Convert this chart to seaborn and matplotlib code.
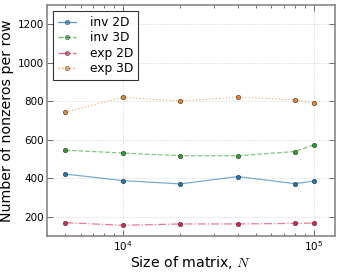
import matplotlib
matplotlib.use("Agg")
import matplotlib.pyplot as plt
import seaborn as sns
import pandas as pd

# matrix sizes and nonzeros per row
sizes = [5000, 10000, 20000, 40000, 80000, 100000]
inv_2d = [422, 388, 371, 409, 372, 386]
inv_3d = [546, 531, 517, 517, 539, 574]
exp_2d = [170, 156, 163, 163, 166, 168]
exp_3d = [743, 821, 800, 822, 807, 791]

labels = ["inv 2D", "inv 3D", "exp 2D", "exp 3D"]
series = [inv_2d, inv_3d, exp_2d, exp_3d]
colors = ["#1f77b4", "#2ca02c", "#d62750", "#e8832a"]
styles = ["-", "--", "-.", ":"]

df = pd.DataFrame({
    "N": sizes * len(labels),
    "nnz": [v for s in series for v in s],
    "kind": [lab for lab in labels for _ in sizes],
})

sns.set_theme(style="ticks")
plt.rcParams["font.family"] = ["DejaVu Sans"]
plt.rcParams["mathtext.fontset"] = "cm"
plt.rcParams["text.color"] = "black"
plt.rcParams["axes.labelcolor"] = "black"
plt.rcParams["xtick.color"] = "black"
plt.rcParams["ytick.color"] = "black"

fig, ax = plt.subplots(figsize=(3.4, 2.72), dpi=100)

for lab, col, ls in zip(labels, colors, styles):
    d = df[df["kind"] == lab]
    sns.lineplot(data=d, x="N", y="nnz", ax=ax, color=col, linestyle=ls,
                 linewidth=0.9, alpha=0.6, label=None)
    ax.plot(d["N"], d["nnz"], linestyle="none", marker="o", markersize=3.2,
            color=col, markeredgecolor="#333333", markeredgewidth=0.4)

# legend handles combining line and markers
handles = [plt.Line2D([], [], color=c, linestyle=ls, linewidth=1.0, alpha=0.7,
                      marker="o", markersize=3.2, markerfacecolor=c,
                      markeredgecolor="#333333", markeredgewidth=0.4)
           for c, ls in zip(colors, styles)]
leg = ax.legend(handles, labels, loc="upper left", fontsize=8.8,
                frameon=True, fancybox=False, handlelength=1.5,
                handletextpad=1.1, borderpad=0.4, labelspacing=0.2,
                borderaxespad=0.5)
leg.get_frame().set_edgecolor("black")
leg.get_frame().set_linewidth(0.8)

ax.set_xscale("log")
ax.set_xlim(4000, 129000)
ax.set_ylim(100, 1300)
ax.set_yticks([200, 400, 600, 800, 1000, 1200])
ax.grid(True, which="major", linestyle=":", color="#cccccc", linewidth=0.6)
ax.tick_params(which="both", direction="in", top=True, right=True,
               labelsize=7.5, color="#555555", width=0.6, pad=2)
ax.tick_params(which="major", length=4)
ax.tick_params(which="minor", length=2)
for sp in ax.spines.values():
    sp.set_color("#888888")
    sp.set_linewidth(1.2)

ax.set_xlabel("Size of matrix, $N$", fontsize=10.2, labelpad=1)
ax.set_ylabel("Number of nonzeros per row", fontsize=10.2, labelpad=3)

fig.subplots_adjust(left=0.138, right=0.985, top=0.982, bottom=0.132)
fig.savefig("out.png", dpi=100)
